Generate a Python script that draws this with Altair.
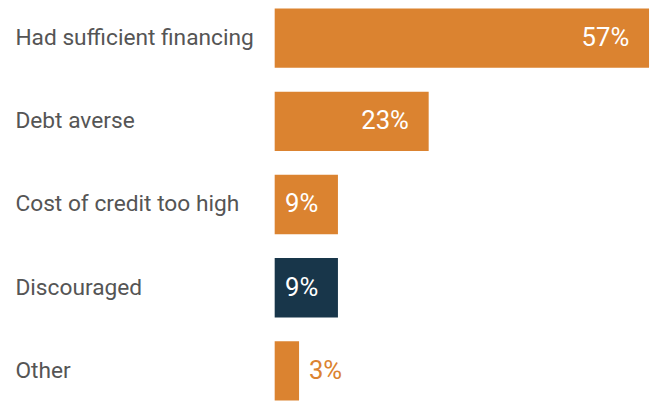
import altair as alt
import pandas as pd

categories = ["Had sufficient financing", "Debt averse", "Cost of credit too high", "Discouraged", "Other"]
values = [57, 23, 9, 9, 3]
colors = ["#DB8330", "#DB8330", "#DB8330", "#18364A", "#DB8330"]

df = pd.DataFrame({
    "category": categories,
    "value": values,
    "color": colors,
    "label": [f"{v}%" for v in values],
    "inside": [v >= 9 for v in values],
})

base_x = -0.76
x_scale = alt.Scale(domain=[base_x, 57], range=[0, 379], nice=False, zero=False)
y_enc = alt.Y(
    "category:N",
    sort=categories,
    scale=alt.Scale(range=[-2, 395], paddingInner=0.286, paddingOuter=0),
    axis=alt.Axis(
        title=None, domain=False, ticks=False, labelAlign="left", labelPadding=263,
        labelFont="Roboto", labelFontSize=23, labelColor="#555555", labelLimit=400,
        labelBaseline="middle",
    ),
)

bars = alt.Chart(df).mark_bar().encode(
    x=alt.X("value:Q", scale=x_scale, axis=None),
    x2=alt.datum(base_x),
    y=y_enc,
    color=alt.Color("color:N", scale=None),
)

inside = alt.Chart(df).transform_filter("datum.inside").mark_text(
    align="right", baseline="middle", dx=-20, font="Roboto", fontSize=26, color="white"
).encode(
    x=alt.X("value:Q", scale=x_scale, axis=None),
    y=alt.Y("category:N", sort=categories),
    text="label:N",
)

outside = alt.Chart(df).transform_filter("!datum.inside").mark_text(
    align="left", baseline="middle", dx=10, font="Roboto", fontSize=26, color="#DB8330"
).encode(
    x=alt.X("value:Q", scale=x_scale, axis=None),
    y=alt.Y("category:N", sort=categories),
    text="label:N",
)

chart = alt.layer(bars, inside, outside).properties(
    width=379, height=395,
    autosize=alt.AutoSizeParams(type="none"),
    padding={"left": 270, "top": 0, "right": 3, "bottom": 0},
).configure_view(stroke=None)

chart.save("out.html", embed_options={"renderer": "svg", "actions": False})
